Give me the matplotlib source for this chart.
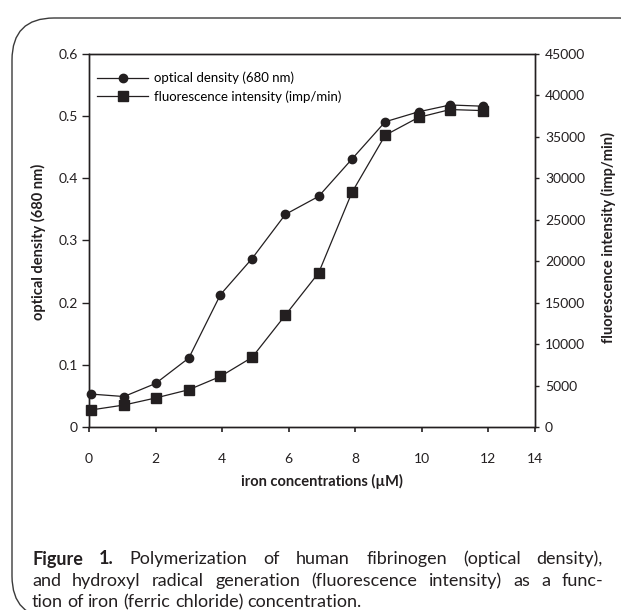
import matplotlib
matplotlib.use('Agg')

import matplotlib.pyplot as plt
from matplotlib.patches import FancyBboxPatch
from matplotlib.transforms import IdentityTransform
from matplotlib.lines import Line2D

plt.rcParams['font.family'] = ['Lato', 'DejaVu Sans']

# iron concentration (uM)
conc = [0.05, 1.05, 2.0, 3.0, 3.95, 4.9, 5.9, 6.9, 7.9, 8.9, 9.9, 10.85, 11.85]
# optical density (680 nm), left axis
od = [0.053, 0.049, 0.070, 0.111, 0.213, 0.271, 0.342, 0.371, 0.431,
      0.491, 0.507, 0.518, 0.516]
# fluorescence intensity (imp/min), right axis
fluo = [2050, 2650, 3500, 4500, 6100, 8400, 13500, 18600, 28300,
        35200, 37350, 38300, 38170]

xticks = [0, 2, 4, 6, 8, 10, 12, 13.4]
xticklabels = ['0', '2', '4', '6', '8', '10', '12', '14']
od_ticks = [0, 0.1, 0.2, 0.3, 0.4, 0.5, 0.6]
od_ticklabels = ['0', '0.1', '0.2', '0.3', '0.4', '0.5', '0.6']
fluo_ticks = [0, 5000, 10000, 15000, 20000, 25000, 30000, 35000, 40000, 45000]

caption = [
    ["Figure", "1.", "Polymerization", "of", "human", "fibrinogen", "(optical", "density),"],
    ["and", "hydroxyl", "radical", "generation", "(fluorescence", "intensity)", "as", "a", "func-"],
    ["tion", "of", "iron", "(ferric", "chloride)", "concentration."],
]

INK = '#231f20'
W, H = 621, 610


def place_line(fig, renderer, words, x0, x1, y, size, n_bold=0, justify=True):
    texts = []
    for i, w in enumerate(words):
        t = fig.text(0, H - y, w, fontsize=size, color=INK, va='center', ha='left',
                     fontweight='bold' if i < n_bold else 'normal',
                     transform=IdentityTransform())
        texts.append(t)
    widths = [t.get_window_extent(renderer).width for t in texts]
    if justify and len(words) > 1:
        gap = (x1 - x0 - sum(widths)) / (len(words) - 1)
    else:
        gap = size * 100 / 72 * 0.24
    x = x0
    for t, w in zip(texts, widths):
        t.set_x(x)
        x += w + gap


def plot_chart(out_file):
    fig = plt.figure(figsize=(W / 100, H / 100), dpi=100)
    ax = fig.add_axes([89 / W, 1 - 427 / H, (535 - 89) / W, (427 - 54) / H])
    ax2 = ax.twinx()

    # rounded box round the figure
    box = FancyBboxPatch((12, -8), 650, 600,
                         boxstyle="round,pad=0,rounding_size=42",
                         transform=IdentityTransform(),
                         fill=False, ec='#3a3a3a', lw=1.0)
    fig.add_artist(box)

    ax2.plot(conc, fluo, color=INK, lw=0.9, marker='s', ms=6.6,
             mfc=INK, mec=INK, zorder=3, clip_on=False)
    ax.plot(conc, od, color=INK, lw=0.9, marker='o', ms=6.0,
            mfc=INK, mec=INK, zorder=3, clip_on=False)
    ax.set_zorder(ax2.get_zorder() + 1)
    ax.patch.set_visible(False)

    ax.set_xlim(0, 13.4)
    ax.set_ylim(0, 0.6)
    ax2.set_ylim(0, 45000)

    ax.set_xticks(xticks)
    ax.set_xticklabels(xticklabels)
    ax.set_yticks(od_ticks)
    ax.set_yticklabels(od_ticklabels)
    ax2.set_yticks(fluo_ticks)
    ax2.set_yticklabels([str(v) for v in fluo_ticks])

    for a in (ax, ax2):
        for s in a.spines.values():
            s.set_linewidth(1.0)
            s.set_color(INK)
    ax.tick_params(axis='y', direction='out', length=5, width=1.0, pad=3,
                   labelsize=10, colors=INK)
    ax.tick_params(axis='x', direction='out', length=3.5, width=1.2, pad=15,
                   labelsize=10, colors=INK)
    ax2.tick_params(axis='y', direction='out', length=3.2, width=1.0, pad=4,
                    labelsize=10, colors=INK)

    ax.set_ylabel("optical density (680 nm)", fontsize=10.5, fontweight='bold', color=INK)
    ax.yaxis.set_label_coords(-0.1143, 0.497)
    ax.yaxis.label.set_va('center')
    ax2.set_ylabel("fluorescence intensity (imp/min)", fontsize=10.5,
                   fontweight='bold', color=INK, rotation=90)
    ax2.yaxis.set_label_coords(1.1637, 0.507)
    ax2.yaxis.label.set_va('center')
    ax.set_xlabel("iron concentrations (\u00b5M)", fontsize=10.5, fontweight='bold', color=INK)
    ax.xaxis.set_label_coords(0.522, -0.147)
    ax.xaxis.label.set_va('center')

    handles = [Line2D([], [], color=INK, lw=0.9, marker='o', ms=6.0),
               Line2D([], [], color=INK, lw=0.9, marker='s', ms=6.6)]
    ax.legend(handles, ["optical density (680 nm)", "fluorescence intensity (imp/min)"],
              loc='upper left', bbox_to_anchor=(0.018, 0.952), frameon=False,
              fontsize=9.5, handlelength=3.9, handletextpad=0.45,
              labelspacing=0.45, borderaxespad=0, borderpad=0)

    fig.canvas.draw()
    renderer = fig.canvas.get_renderer()
    ys = [559, 581, 602]
    for i, words in enumerate(caption):
        place_line(fig, renderer, words, 32, 603, ys[i], 13,
                   n_bold=2 if i == 0 else 0, justify=(i < 2))

    plt.savefig(out_file, dpi=100)
    plt.close()


def main():
    plot_chart("out.png")


if __name__ == "__main__":
    main()
